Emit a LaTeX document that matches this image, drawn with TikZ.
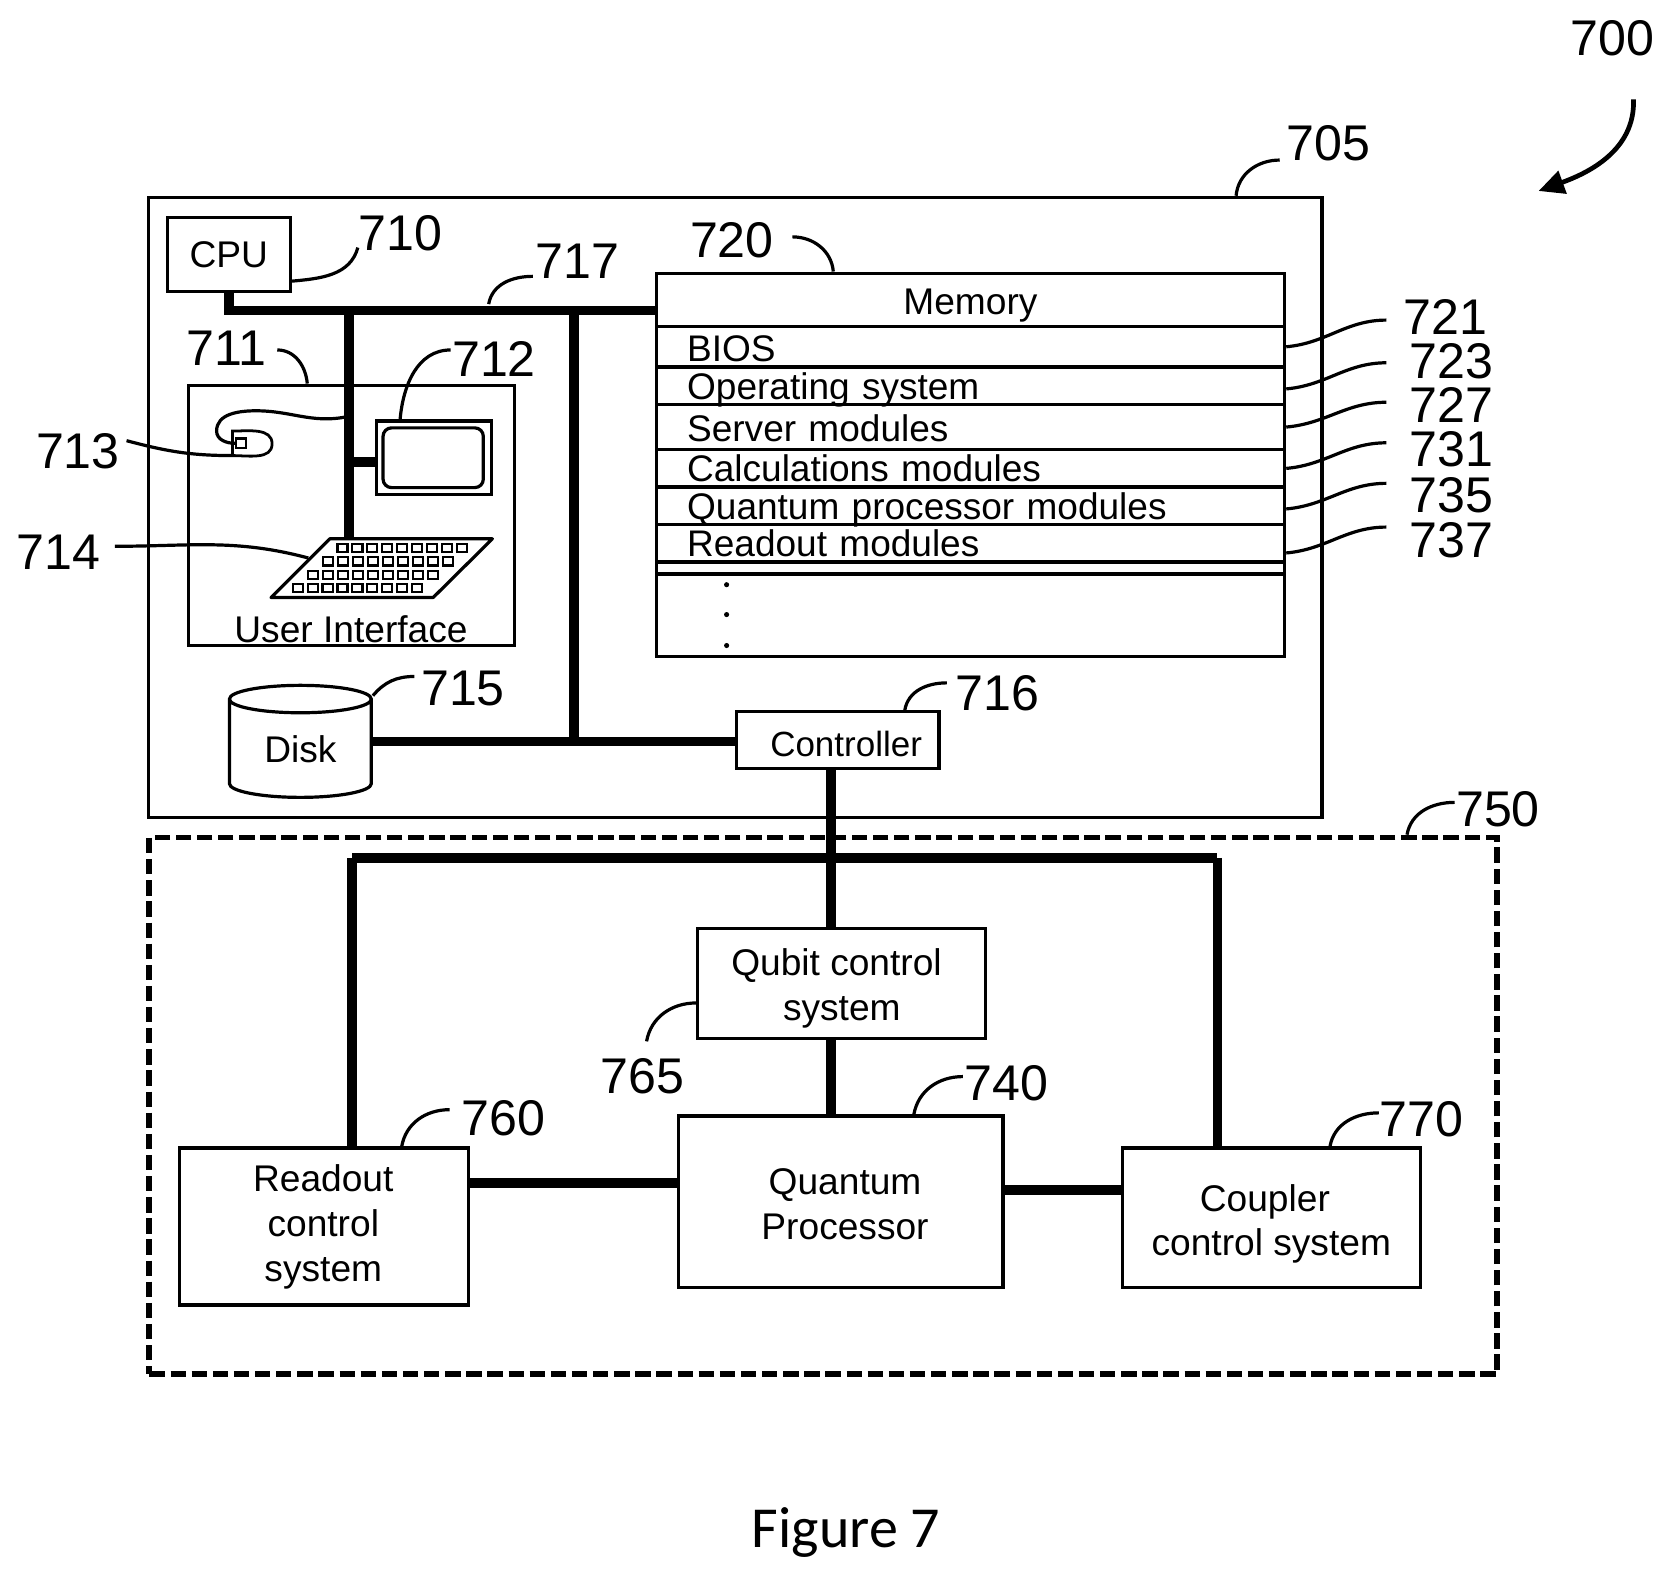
\documentclass[tikz,border=0pt]{standalone}
\usepackage{fontspec}
\setmainfont{Liberation Sans}
\newfontfamily\figfont{Carlito}
\usetikzlibrary{arrows.meta,shapes.geometric}
\tikzset{
  sized/.style 2 args={minimum width=#1*0.5pt,minimum height=#2*0.5pt},
  box/.style={draw,line width=1.5pt,inner sep=0pt,align=center,font=\fontsize{17.4}{21}\selectfont},
  txt/.style={inner sep=0pt,align=center,font=\fontsize{17.4}{21}\selectfont},
  row/.style={draw,line width=1.5pt,inner ysep=0pt,inner xsep=14.5pt,text width=265.5pt,align=left,
    text height=#1*0.5pt-2.5pt,text depth=2.5pt,font=\fontsize{17.35}{21}\selectfont},
  lbl/.style={inner sep=3pt,font=\fontsize{23.5}{26}\selectfont},
  leader/.style={line width=1.5pt},
  bus/.style={line width=4.6pt},
  dot/.style={circle,fill,inner sep=0pt,minimum size=2.4pt},
}
\begin{document}
\begin{tikzpicture}[x=0.5pt,y=-0.5pt]
\useasboundingbox (0,0) rectangle (1568,1477);

% computer system
\node[box,sized={1100}{581}](comp) at (689,475.5){};
\node[box,sized={115}{70}](cpu) at (214.5,238.5){CPU};
\node[box,sized={305}{244}](ui) at (329.5,483){};
\node[txt](uitext) at (329,590){User Interface};
\node[box,sized={108}{69}](monitor) at (407,429){};
\node[draw,line width=1.5pt,rounded corners=4pt,minimum width=47pt,minimum height=28pt,inner sep=0pt](screen) at (406,429){};
\node[cylinder,draw,line width=1.5pt,shape border rotate=90,aspect=0.38,minimum width=66.5pt,minimum height=52.5pt,inner sep=0pt,font=\fontsize{17.4}{21}\selectfont](disk) at (281.5,702){Disk};
\node[box,sized={190}{53}](ctrl) at (785,693.5){};
\node[txt,font=\fontsize{16.4}{20}\selectfont](ctrltext) at (793,697){Controller};

% mouse
\draw[line width=1.3pt] (218,404) to[out=0,in=90] (255,416) to[out=-90,in=0] (218,427) -- cycle;
\node[draw,line width=1pt,sized={9.5}{9},inner sep=0pt](mbutton) at (226,415.5){};

% keyboard
\draw[line width=1.5pt,line join=round] (309,505) -- (461.5,505) -- (406,560) -- (254,560) -- cycle;
\foreach \kx/\ky in {321/513.5,307.5/526,293.5/539,279/551}
  \foreach \k in {0,...,8}
    \draw[line width=1pt] (\kx+14*\k-4.7,\ky-4) rectangle (\kx+14*\k+4.7,\ky+4);

% memory
\node[box,sized={589}{50},text height=19.5pt,text depth=5.5pt](memhead) at (909.5,281){Memory};
\node[row=38](bios) at (909.5,325){BIOS};
\node[row=35](opsys) at (909.5,361.5){Operating system};
\node[row=42.5,text depth=4pt,text height=17.25pt](server) at (909.5,400.25){Server modules};
\node[row=35](calc) at (909.5,439){Calculations modules};
\node[row=35](qmod) at (909.5,474){Quantum processor modules};
\node[row=35.5](readmod) at (909.5,509.25){Readout modules};
\node[box,sized={589}{12}](spacer) at (909.5,532){};
\node[box,sized={589}{77}](rest) at (909.5,576.5){};
\node[dot](d1) at (681,548){};
\node[dot](d2) at (681,576){};
\node[dot](d3) at (681,605){};

% quantum system
\node[box,sized={1263}{503},line width=2.7pt,dash pattern=on 7.2pt off 2.7pt](qsys) at (771.5,1036.5){};
\node[box,sized={270}{103}](qubit) at (789,921.5){};
\node[txt](qubittext) at (789,926){Qubit control\hspace*{5pt}\\system};
\node[box,sized={304}{161}](qp) at (788,1126.5){};
\node[txt](qptext) at (792,1129){Quantum\\Processor};
\node[box,sized={271}{147}](readout) at (303.5,1149.5){};
\node[txt](readouttext) at (303,1150){Readout\\control\\system};
\node[box,sized={279}{131}](coupler) at (1191.5,1141.5){};
\node[txt](couplertext) at (1191.5,1147){Coupler\hspace*{6pt}\\control system};

% reference numerals
\node[lbl](l700) at (1511,36){700};
\node[lbl](l705) at (1245,134){705};
\node[lbl](l710) at (375,219){710};
\node[lbl](l711) at (212,326){711};
\node[lbl](l712) at (463,336){712};
\node[lbl](l713) at (73,423){713};
\node[lbl](l714) at (55,518){714};
\node[lbl](l715) at (434,645){715};
\node[lbl](l716) at (935,650){716};
\node[lbl](l717) at (541,245){717};
\node[lbl](l720) at (686,225){720};
\node[lbl](l721) at (1355,297){721};
\node[lbl](l723) at (1360,339){723};
\node[lbl](l727) at (1360,380){727};
\node[lbl](l731) at (1360,421){731};
\node[lbl](l735) at (1360,464){735};
\node[lbl](l737) at (1360,506){737};
\node[lbl](l740) at (943,1015){740};
\node[lbl](l750) at (1404,758){750};
\node[lbl](l760) at (472,1048){760};
\node[lbl](l765) at (602,1009){765};
\node[lbl](l770) at (1332,1049){770};
\node(figname)[font=\figfont\fontsize{27.2}{30}\selectfont] at (793,1436){Figure 7};

% bus junctions
\coordinate (j1) at (327,291);
\coordinate (j2) at (538,291);
\coordinate (j3) at (614,291);
\coordinate (j4) at (327,505);
\coordinate (j5) at (327,433);
\coordinate (j6) at (538,695);
\coordinate (j7) at (779,804);
\coordinate (j8) at (330,804);
\coordinate (j9) at (1141,804);
\coordinate (j10) at (539,1109);
\coordinate (j11) at (996,1115);
\coordinate (tail) at (323,391);
\coordinate (mbottom) at (219,427);
\coordinate (kedge) at (289,523);

\draw[bus] (cpu.south) |- (j3);
\path[bus] (j1) edge (j4)
	(j2) edge (j6)
	(j5) edge (j5 -| monitor.west)
	(j6 -| disk.east) edge (j6 -| ctrl.west)
	(j7 |- ctrl.south) edge (j7 |- qubit.north)
	(j7 |- qubit.south) edge (j7 |- qp.north)
	(j8) edge[line width=5pt] (j9)
	(j8) edge[line width=5pt] (j8 |- readout.north)
	(j9) edge (j9 |- coupler.north)
	(j10 -| readout.east) edge (j10 -| qp.west)
	(j11 -| qp.east) edge (j11 -| coupler.west);

\draw[leader] (tail) to[out=190,in=0] (240,385) to[out=180,in=90] (203,404) to[out=-90,in=180] (mbutton.west);
\path[leader] ([shift={(-82,0)}]comp.north east) edge[out=85,in=180] ([shift={(0,16)}]l705.west)
	([shift={(0,25)}]cpu.east) edge[out=5,in=-105] ([shift={(6,13)}]l710.west)
	([shift={(-41.5,0)}]ui.north) edge[out=95,in=0] ([shift={(4,2)}]l711.east)
	([shift={(-32,0)}]monitor.north) edge[out=85,in=180] ([shift={(5,-8)}]l712.west)
	(mbottom) edge[out=180,in=-15] ([shift={(0,-10)}]l713.east)
	(kedge) edge[out=165,in=0] ([shift={(7,-6)}]l714.east)
	([shift={(0,-50)}]disk.east) edge[out=50,in=180] ([shift={(0,-11)}]l715.west)
	([shift={(63,0)}]ctrl.north) edge[out=80,in=180] ([shift={(-2,-10)}]l716.west)
	([shift={(-80,-6)}]j2) edge[out=80,in=180] ([shift={(4,14)}]l717.west)
	([shift={(-128.5,0)}]memhead.north) edge[out=95,in=0] ([shift={(11,-3)}]l720.east)
	(bios.east) edge[out=5,in=180] ([shift={(-10,3)}]l721.west)
	([shift={(0,3)}]opsys.east) edge[out=5,in=180] ([shift={(-15,1)}]l723.west)
	(server.east) edge[out=5,in=180] ([shift={(-15,-3)}]l727.west)
	(calc.east) edge[out=5,in=180] ([shift={(-15,-6)}]l731.west)
	([shift={(0,3)}]qmod.east) edge[out=5,in=180] ([shift={(-15,-11)}]l735.west)
	([shift={(0,9)}]readmod.east) edge[out=5,in=180] ([shift={(-15,-12)}]l737.west)
	([shift={(-85,0)}]qp.north east) edge[out=80,in=180] ([shift={(5,-6)}]l740.west)
	([shift={(-87,0)}]qsys.north east) edge[out=80,in=180] ([shift={(5,-6)}]l750.west)
	([shift={(-64,0)}]readout.north east) edge[out=80,in=180] ([shift={(-5,-8)}]l760.west)
	([shift={(4,-10)}]l765.north) edge[out=80,in=180] ([shift={(0,18.5)}]qubit.west)
	([shift={(-86,0)}]coupler.north east) edge[out=80,in=180] ([shift={(6,-6)}]l770.west);
\draw[line width=2.2pt,-{Triangle[length=12pt,width=11pt]}] ([shift={(20,34)}]l700.south) to[out=-88,in=20] (1442,179);

\end{tikzpicture}
\end{document}
